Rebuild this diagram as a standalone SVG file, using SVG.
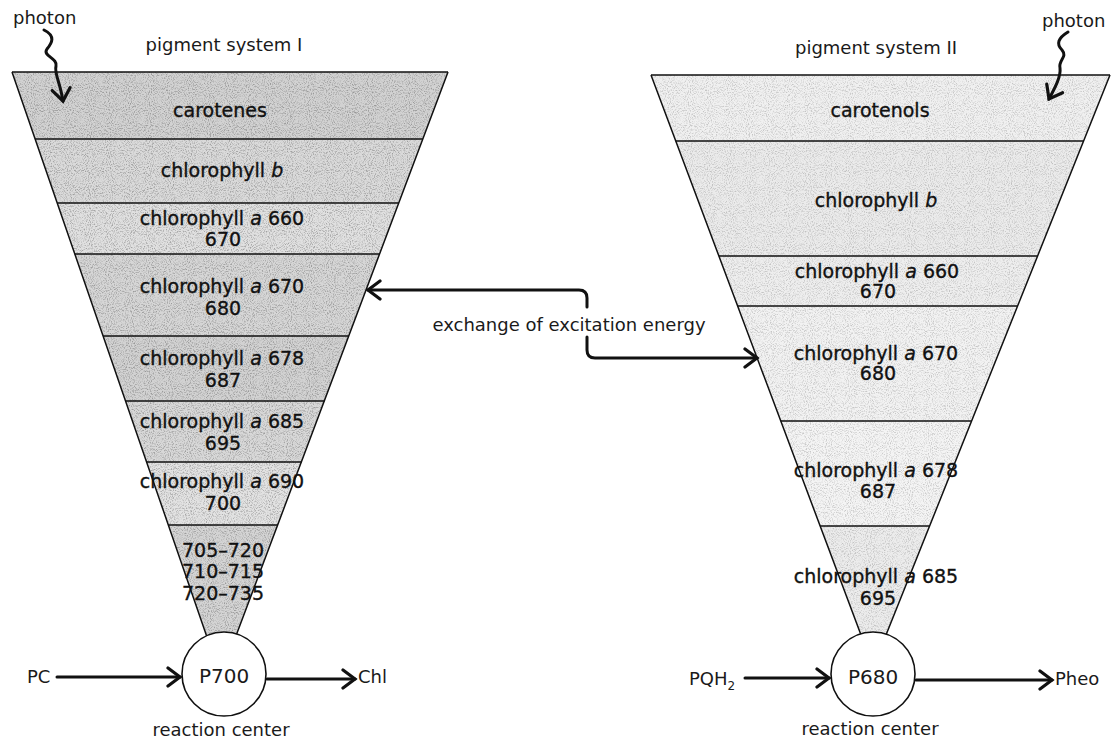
<svg xmlns="http://www.w3.org/2000/svg" width="1116" height="742" viewBox="0 0 1116 742">
<style>
 .lbl{font-family:"DejaVu Sans","Liberation Sans",sans-serif;font-size:18px;fill:#1a1a1a}
 .band{font-family:"DejaVu Sans","Liberation Sans",sans-serif;font-size:19px;fill:#111;stroke:#111;stroke-width:0.35;text-anchor:middle}
 .mid{text-anchor:middle}
 .it{font-style:italic}
 .div{stroke:#111;stroke-width:1.6;fill:none}
 .edge{stroke:#111;stroke-width:1.5;fill:none;stroke-linejoin:round}
 .conn{stroke:#111;stroke-width:3;fill:none;stroke-linecap:round;stroke-linejoin:round}
 .rc{fill:#fff;stroke:#111;stroke-width:1.6}
 .big{font-size:20px}
</style>
<defs>
 <marker id="chev" viewBox="0 0 18 22" refX="15" refY="11" markerWidth="18" markerHeight="22" markerUnits="userSpaceOnUse" orient="auto-start-reverse">
  <path d="M3,2 L15,11 L3,20" fill="none" stroke="#111" stroke-width="3.2" stroke-linecap="round" stroke-linejoin="miter"/>
 </marker>
 <filter id="grain" x="0" y="0" width="1116" height="742" filterUnits="userSpaceOnUse" color-interpolation-filters="sRGB">
  <feTurbulence type="fractalNoise" baseFrequency="0.95" numOctaves="2" seed="11"/>
  <feColorMatrix type="matrix" values="0 0 0 0 0.1 0 0 0 0 0.1 0 0 0 0 0.1 0 0 0 -3 1.6"/>
 </filter>
 <clipPath id="clipL"><polygon points="12,72 448,72 234.4,640 208,640"/></clipPath>
 <clipPath id="clipR"><polygon points="651,75 1110,75 884,640 862.9,640"/></clipPath>
</defs>
<rect width="1116" height="742" fill="#fff"/>

<!-- Pigment system I funnel -->
<g id="ps1">
 <g id="ps1-carotenes">
  <polygon points="12,72 448,72 422.8,139 35.1,139" fill="#d2d2d2"/>
  <text class="band" x="220" y="117">carotenes</text>
 </g>
 <g id="ps1-chlb">
  <polygon points="35.1,139 422.8,139 398.7,203 57.2,203" fill="#dadada"/>
  <text class="band" x="222" y="177">chlorophyll <tspan class="it">b</tspan></text>
 </g>
 <g id="ps1-a660">
  <polygon points="57.2,203 398.7,203 379.6,254 74.8,254" fill="#e0e0e0"/>
  <text class="band" x="222" y="225">chlorophyll <tspan class="it">a</tspan> 660</text>
  <text class="band" x="223" y="246">670</text>
 </g>
 <g id="ps1-a670">
  <polygon points="74.8,254 379.6,254 348.7,336 103.1,336" fill="#d6d6d6"/>
  <text class="band" x="222" y="293">chlorophyll <tspan class="it">a</tspan> 670</text>
  <text class="band" x="223" y="315">680</text>
 </g>
 <g id="ps1-a678">
  <polygon points="103.1,336 348.7,336 324.3,401 125.5,401" fill="#d2d2d2"/>
  <text class="band" x="222" y="365">chlorophyll <tspan class="it">a</tspan> 678</text>
  <text class="band" x="223" y="387">687</text>
 </g>
 <g id="ps1-a685">
  <polygon points="125.5,401 324.3,401 301.4,462 146.6,462" fill="#d8d8d8"/>
  <text class="band" x="222" y="428">chlorophyll <tspan class="it">a</tspan> 685</text>
  <text class="band" x="223" y="450">695</text>
 </g>
 <g id="ps1-a690">
  <polygon points="146.6,462 301.4,462 277.7,525 168.3,525" fill="#e2e2e2"/>
  <text class="band" x="222" y="488">chlorophyll <tspan class="it">a</tspan> 690</text>
  <text class="band" x="223" y="510">700</text>
 </g>
 <g id="ps1-far">
  <polygon points="168.3,525 277.7,525 234.4,640 208,640" fill="#d4d4d4"/>
 </g>
 <rect x="0" y="60" width="460" height="590" fill="#000" filter="url(#grain)" clip-path="url(#clipL)" opacity="0.3"/>
 <g id="ps1-far-text">
  <text class="band" x="223" y="557">705–720</text>
  <text class="band" x="223" y="578">710–715</text>
  <text class="band" x="223" y="600">720–735</text>
 </g>
 <path class="edge" d="M12,72 L208,640 M448,72 L234.4,640"/>
 <path class="div" d="M12,72 H448 M35.1,139 H422.8 M57.2,203 H398.7 M74.8,254 H379.6 M103.1,336 H348.7 M125.5,401 H324.3 M146.6,462 H301.4 M168.3,525 H277.7"/>
</g>

<!-- Pigment system II funnel -->
<g id="ps2">
 <g id="ps2-carotenols">
  <polygon points="651,75 1110,75 1083.6,141 675.8,141" fill="#f0f0f0"/>
  <text class="band" x="880" y="117">carotenols</text>
 </g>
 <g id="ps2-chlb">
  <polygon points="675.8,141 1083.6,141 1037.6,256 718.9,256" fill="#ebebeb"/>
  <text class="band" x="876" y="207">chlorophyll <tspan class="it">b</tspan></text>
 </g>
 <g id="ps2-a660">
  <polygon points="718.9,256 1037.6,256 1017.6,306 737.6,306" fill="#eeeeee"/>
  <text class="band" x="877" y="278">chlorophyll <tspan class="it">a</tspan> 660</text>
  <text class="band" x="878" y="298">670</text>
 </g>
 <g id="ps2-a670">
  <polygon points="737.6,306 1017.6,306 971.6,421 780.8,421" fill="#f2f2f2"/>
  <text class="band" x="876" y="360">chlorophyll <tspan class="it">a</tspan> 670</text>
  <text class="band" x="878" y="380">680</text>
 </g>
 <g id="ps2-a678">
  <polygon points="780.8,421 971.6,421 929.6,526 820.1,526" fill="#f4f4f4"/>
  <text class="band" x="876" y="477">chlorophyll <tspan class="it">a</tspan> 678</text>
  <text class="band" x="878" y="498">687</text>
 </g>
 <g id="ps2-a685">
  <polygon points="820.1,526 929.6,526 884,640 862.9,640" fill="#ececec"/>
  <text class="band" x="876" y="583">chlorophyll <tspan class="it">a</tspan> 685</text>
  <text class="band" x="878" y="605">695</text>
 </g>
 <rect x="640" y="60" width="480" height="590" fill="#000" filter="url(#grain)" clip-path="url(#clipR)" opacity="0.2"/>
 <path class="edge" d="M651,75 L862.9,640 M1110,75 L884,640"/>
 <path class="div" d="M651,75 H1110 M675.8,141 H1083.6 M718.9,256 H1037.6 M737.6,306 H1017.6 M780.8,421 H971.6 M820.1,526 H929.6"/>
</g>

<!-- Reaction centers -->
<g id="p700">
 <circle class="rc" cx="224" cy="674" r="42"/>
 <text class="lbl big mid" x="224" y="683">P700</text>
</g>
<g id="p680">
 <circle class="rc" cx="873" cy="674" r="42"/>
 <text class="lbl big mid" x="873" y="684">P680</text>
</g>

<!-- Labels -->
<g id="labels">
 <text class="lbl" x="13" y="24">photon</text>
 <text class="lbl mid" x="224" y="51">pigment system I</text>
 <text class="lbl" x="1042" y="27">photon</text>
 <text class="lbl mid" x="876" y="54">pigment system II</text>
 <text class="lbl mid" x="569" y="331">exchange of excitation energy</text>
 <text class="lbl" x="27" y="683">PC</text>
 <text class="lbl" x="358" y="683">Chl</text>
 <text class="lbl mid" x="221" y="736">reaction center</text>
 <text class="lbl" x="689" y="685">PQH<tspan font-size="12" dy="5">2</tspan></text>
 <text class="lbl" x="1055" y="685">Pheo</text>
 <text class="lbl mid" x="870" y="735">reaction center</text>
</g>

<!-- Connectors -->
<g id="connectors">
 <path class="conn" d="M44,30 C56,36 52,43 47,49 C42,56 58,58 56,66 C54,73 60,82 63,101" marker-end="url(#chev)"/>
 <path class="conn" d="M1068,32 C1058,38 1056,44 1062,50 C1068,57 1058,60 1060,68 C1061,76 1056,86 1049,99" marker-end="url(#chev)"/>
 <path class="conn" d="M368,290 H579 Q587,290 587,298 V307" marker-start="url(#chev)"/>
 <path class="conn" d="M587,337 V350 Q587,358 595,358 H757" marker-end="url(#chev)"/>
 <path class="conn" d="M57,677 H180" marker-end="url(#chev)"/>
 <path class="conn" d="M267,679 H355" marker-end="url(#chev)"/>
 <path class="conn" d="M745,678 H829" marker-end="url(#chev)"/>
 <path class="conn" d="M916,680 H1052" marker-end="url(#chev)"/>
</g>
</svg>
